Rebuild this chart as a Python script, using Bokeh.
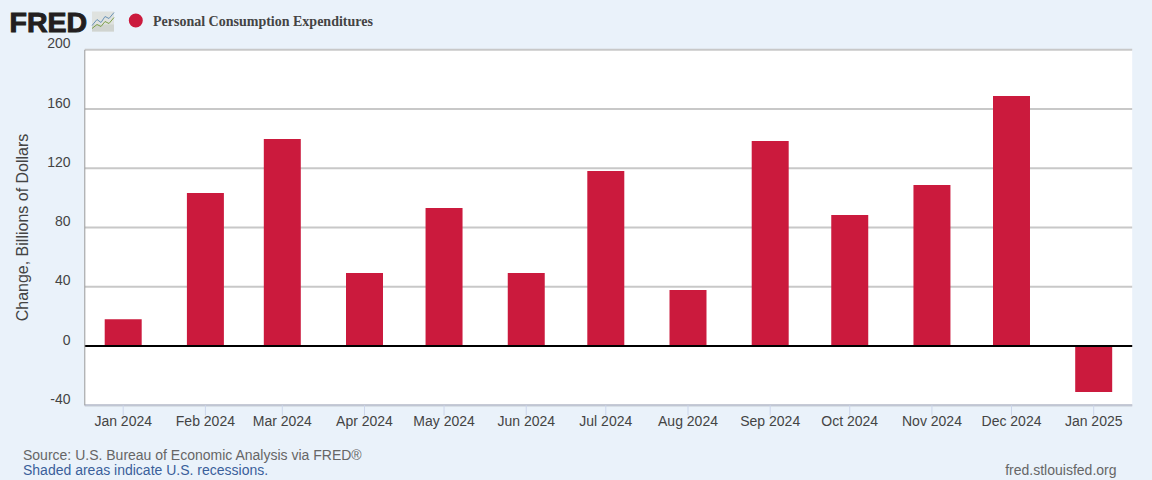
import math
from datetime import datetime
from bokeh.core.properties import value
from bokeh.embed import file_html
from bokeh.resources import INLINE
from bokeh.plotting import figure
from bokeh.models import ColumnDataSource, Range1d

SERIES = "Personal Consumption Expenditures"
years = [2024] * 12 + [2025]
months = [1, 2, 3, 4, 5, 6, 7, 8, 9, 10, 11, 12, 1]
tick_labels = ["Jan 2024", "Feb 2024", "Mar 2024", "Apr 2024", "May 2024", "Jun 2024", "Jul 2024",
               "Aug 2024", "Sep 2024", "Oct 2024", "Nov 2024", "Dec 2024", "Jan 2025"]
values = [18.2, 103.3, 139.8, 49.3, 93.2, 49.3, 118.2, 37.8, 138.4, 88.5, 108.7, 168.8, -31.0]
y_ticks = [-40, 0, 40, 80, 120, 160, 200]
y_label = "Change, Billions of Dollars"
source_note = "Source: U.S. Bureau of Economic Analysis via FRED®"
recession_note = "Shaded areas indicate U.S. recessions."
site = "fred.stlouisfed.org"
logo = "FRED"

BG = "#eaf2fa"
RED = "#cb1a3d"
TXT = "#444444"
DAY = 86400000.0
W, H = 1152, 480


def ms(y, m, d=1):
    return (datetime(y, m, d) - datetime(1970, 1, 1)).total_seconds() * 1000.0


dates = [ms(y, m) for y, m in zip(years, months)]

# The frame fills the whole page so the header and footer can be drawn without clipping.
PX_PER_DAY = 970.5 / 366
ZERO_PX = 345.6
PX_PER_UNIT = 59.25 / 40


def xp(px):
    return dates[0] + (px - 122.7) / PX_PER_DAY * DAY


def yp(py):
    return (ZERO_PX - py) / PX_PER_UNIT


p = figure(width=W, height=H, output_backend="svg", toolbar_location=None,
           x_axis_location=None, y_axis_location=None,
           x_range=Range1d(xp(0), xp(W)), y_range=Range1d(yp(H), yp(0)),
           background_fill_color=BG, border_fill_color=BG, outline_line_color=None,
           min_border=0, min_border_left=0, min_border_right=0, min_border_top=0, min_border_bottom=0)
p.grid.visible = False

L, R = xp(84.3), xp(1131.7)

# Plot area, gridlines
p.quad(left=[L], right=[R], bottom=[y_ticks[0]], top=[y_ticks[-1]], fill_color="white", line_color=None)
p.segment(x0=[L] * len(y_ticks), x1=[R] * len(y_ticks), y0=y_ticks, y1=y_ticks,
          line_color="#c8c8c8", line_width=2)

# Bars
src = ColumnDataSource(dict(x=dates, top=values))
p.vbar(x="x", top="top", bottom=0, width=13.95 * DAY, source=src, fill_color=RED, line_color=None)

# Axis lines and ticks
p.segment(x0=[L], x1=[R], y0=[0], y1=[0], line_color="black", line_width=2)
p.segment(x0=[L], x1=[R], y0=[y_ticks[0]], y1=[y_ticks[0]], line_color="#c0c6d4", line_width=2)
p.segment(x0=[L], x1=[L], y0=[y_ticks[0]], y1=[y_ticks[-1]], line_color="#999999", line_width=1)
p.segment(x0=dates, x1=dates, y0=[y_ticks[0]] * len(dates), y1=[yp(415)] * len(dates),
          line_color="#ccd6eb", line_width=1)

SANS = value("Liberation Sans")
p.text(x=dates, y=[y_ticks[0]] * len(dates), text=tick_labels, y_offset=15.5, text_align="center",
       text_baseline="middle", text_font=SANS, text_font_size="14px", text_color=TXT)
p.text(x=[xp(70)] * len(y_ticks), y=y_ticks, text=[str(t) for t in y_ticks], y_offset=-6.5, text_align="right",
       text_baseline="middle", text_font=SANS, text_font_size="14px", text_color=TXT)
p.text(x=[xp(21.5)], y=[yp(227)], text=[y_label], angle=math.pi / 2, text_align="center",
       text_baseline="middle", text_font=SANS, text_font_size="16px", text_color=TXT)

# Footer
p.text(x=[xp(22.5)], y=[yp(454)], text=[source_note], text_baseline="middle", text_font=SANS,
       text_font_size="14px", text_color="#666666")
p.text(x=[xp(22.5)], y=[yp(469)], text=[recession_note], text_baseline="middle", text_font=SANS,
       text_font_size="14px", text_color="#3a5f9a")
p.text(x=[xp(1116)], y=[yp(469)], text=[site], text_align="right", text_baseline="middle", text_font=SANS,
       text_font_size="14px", text_color="#666666")

# Header: logo, icon, legend
p.text(x=[xp(9)], y=[yp(21)], text=[logo], text_baseline="middle", text_font=SANS, text_font_style="bold",
       text_font_size="28.5px", text_color="#231f20", text_outline_color="#231f20")
p.quad(left=[xp(91.5)], right=[xp(113.5)], top=[yp(11)], bottom=[yp(31)], fill_color="#dfe2df", line_color=None)
p.quad(left=[xp(91.5)], right=[xp(113.5)], top=[yp(24)], bottom=[yp(31)], fill_color="#d0d4d0", line_color=None)
p.line(x=[xp(91.5), xp(96.5), xp(100.5), xp(104.5), xp(108.5), xp(113.5)],
       y=[yp(25), yp(19), yp(22), yp(16), yp(18), yp(12)], line_color="#6a93b8", line_width=1)
p.line(x=[xp(91.5), xp(96.5), xp(100.5), xp(104.5), xp(108.5), xp(113.5)],
       y=[yp(28), yp(24), yp(26), yp(21), yp(23), yp(17)], line_color="#7da04a", line_width=1)
p.scatter(x=[xp(135.3)], y=[yp(20)], marker="circle", size=14, fill_color=RED, line_color=None)
p.text(x=[xp(152.5)], y=[yp(20.5)], text=[SERIES], text_baseline="middle", text_font=value("Liberation Serif"),
       text_font_style="bold", text_font_size="14px", text_color=TXT)

html = file_html(p, INLINE)
html = html.replace("</head>", "<style>html,body{background:#eaf2fa;}</style></head>", 1)
open("out.html", "w").write(html)
